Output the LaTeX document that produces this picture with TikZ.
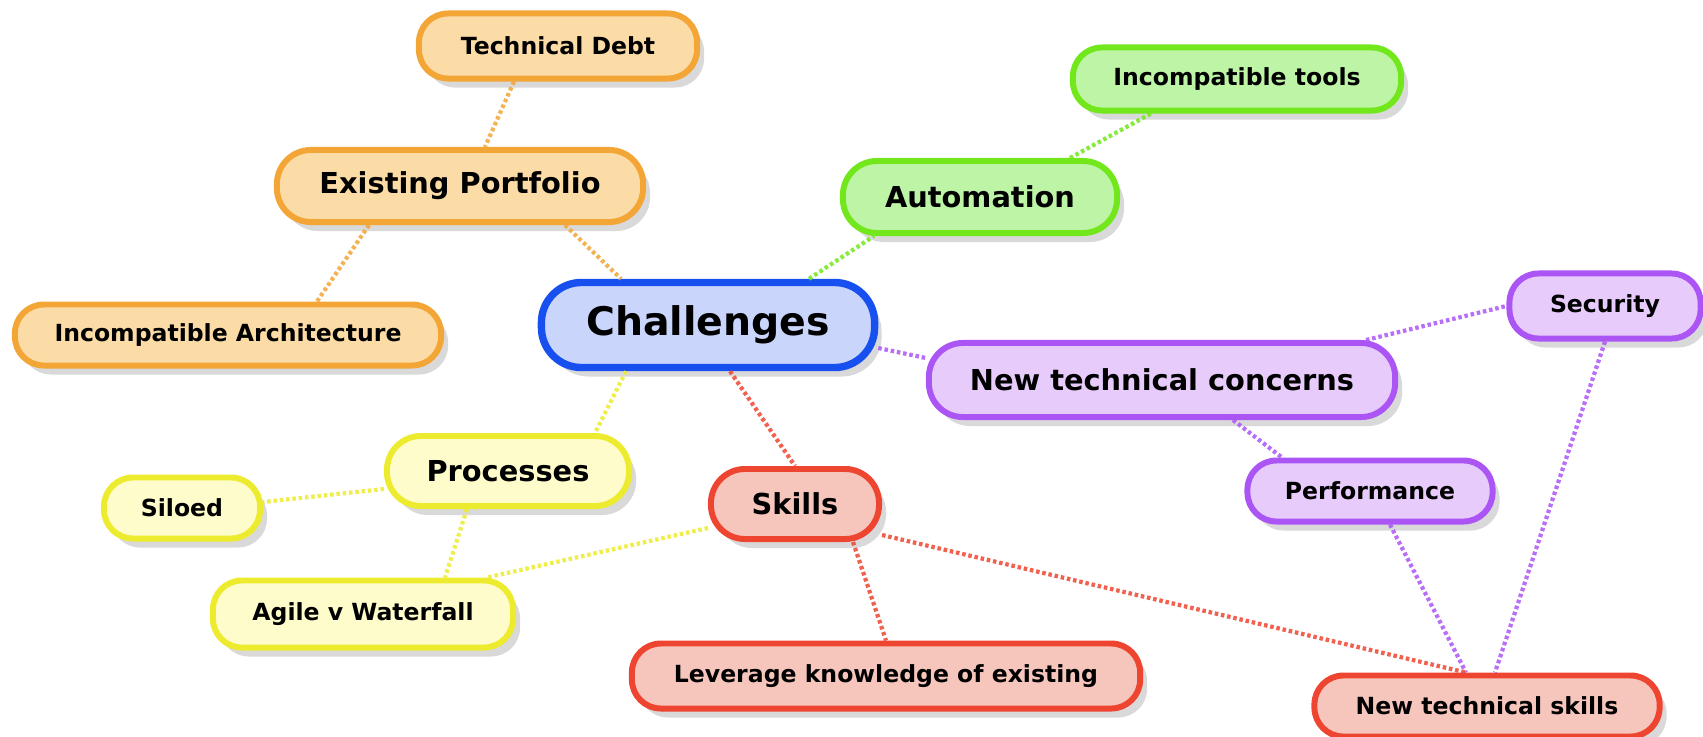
\documentclass[tikz,border=0pt]{standalone}
\usepackage{fontspec}
\setmainfont{DejaVu Sans}
\usetikzlibrary{calc,shadows}

\definecolor{orangeline}{HTML}{F3A535}
\definecolor{orangefill}{HTML}{FCDCA6}
\definecolor{blueline}{HTML}{1850F0}
\definecolor{bluefill}{HTML}{C9D5FB}
\definecolor{greenline}{HTML}{72E81C}
\definecolor{greenfill}{HTML}{BDF4A6}
\definecolor{purpleline}{HTML}{AC55F5}
\definecolor{purplefill}{HTML}{E7CBFB}
\definecolor{yellowline}{HTML}{EDEB2E}
\definecolor{yellowfill}{HTML}{FEFCCB}
\definecolor{redline}{HTML}{EE4530}
\definecolor{redfill}{HTML}{F6C6BD}

\tikzset{
    topic/.style={rectangle, inner sep=0pt, line width=1.7pt, font=\bfseries,
        drop shadow={opacity=0.3, shadow xshift=0.07cm, shadow yshift=-0.09cm}},
    bigtopic/.style={topic, rounded corners=0.34cm, font=\fontsize{8.2}{10}\bfseries},
    smalltopic/.style={topic, rounded corners=0.29cm, font=\fontsize{6.7}{8}\bfseries},
    orangebox/.style={draw=orangeline, fill=orangefill},
    greenbox/.style={draw=greenline, fill=greenfill},
    purplebox/.style={draw=purpleline, fill=purplefill},
    yellowbox/.style={draw=yellowline, fill=yellowfill},
    redbox/.style={draw=redline, fill=redfill},
    link/.style={line width=1.2pt, dash pattern=on 1pt off 0.8pt, draw opacity=0.85}
}

\begin{document}
\begin{tikzpicture}[x=0.01cm, y=-0.01cm]
    \useasboundingbox (0,0) rectangle (1703,736);

    \node[topic, draw=blueline, fill=bluefill, line width=2.1pt, rounded corners=0.4cm,
        minimum width=3.33cm, minimum height=0.85cm, font=\fontsize{11.2}{13}\bfseries]
        (challenges) at (708,325) {Challenges};

    \node[bigtopic, orangebox, minimum width=3.66cm, minimum height=0.72cm] (portfolio) at (460,186) {Existing Portfolio};
    \node[smalltopic, orangebox, minimum width=2.78cm, minimum height=0.65cm] (techdebt) at (558,46) {Technical Debt};
    \node[smalltopic, orangebox, minimum width=4.26cm, minimum height=0.61cm] (incarch) at (228,335) {Incompatible Architecture};

    \node[bigtopic, greenbox, minimum width=2.74cm, minimum height=0.72cm] (automation) at (980,197) {Automation};
    \node[smalltopic, greenbox, minimum width=3.28cm, minimum height=0.63cm] (inctools) at (1237,79) {Incompatible tools};

    \node[bigtopic, purplebox, minimum width=4.66cm, minimum height=0.74cm] (concerns) at (1162,380) {New technical concerns};
    \node[smalltopic, purplebox, minimum width=1.91cm, minimum height=0.65cm] (security) at (1605,306) {Security};
    \node[smalltopic, purplebox, minimum width=2.45cm, minimum height=0.61cm] (perf) at (1370,491) {Performance};

    \node[bigtopic, yellowbox, minimum width=2.42cm, minimum height=0.70cm] (processes) at (508,471) {Processes};
    \node[smalltopic, yellowbox, minimum width=1.56cm, minimum height=0.61cm] (siloed) at (182,508) {Siloed};
    \node[smalltopic, yellowbox, minimum width=3.00cm, minimum height=0.67cm] (agile) at (363,614) {Agile v Waterfall};

    \node[bigtopic, redbox, minimum width=1.68cm, minimum height=0.70cm] (skills) at (795,504) {Skills};
    \node[smalltopic, redbox, minimum width=5.08cm, minimum height=0.65cm] (leverage) at (886,676) {Leverage knowledge of existing};
    \node[smalltopic, redbox, minimum width=3.45cm, minimum height=0.61cm] (newskills) at (1487,706) {New technical skills};

    \draw[link, orangeline] ($ (techdebt.south) + (-44,0) $) -- ($ (portfolio.north) + (25,0) $);
    \draw[link, orangeline] ($ (portfolio.south) + (-91,0) $) -- ($ (incarch.north) + (89,0) $);
    \draw[link, orangeline] ($ (portfolio.south) + (105,0) $) -- ($ (challenges.north) + (-87,0) $);
    \draw[link, greenline] ($ (challenges.north) + (101,0) $) -- ($ (automation.south) + (-106,0) $);
    \draw[link, greenline] ($ (automation.north) + (90,0) $) -- ($ (inctools.south) + (-86,0) $);
    \draw[link, purpleline] ($ (challenges.east) + (0,23) $) -- ($ (concerns.west) + (0,-22) $);
    \draw[link, purpleline] ($ (concerns.north) + (204,0) $) -- (security.west);
    \draw[link, purpleline] ($ (concerns.south) + (71,0) $) -- ($ (perf.north) + (-88,0) $);
    \draw[link, purpleline] ($ (perf.south) + (20,0) $) -- ($ (newskills.north) + (-21,0) $);
    \draw[link, purpleline] (security.south) -- ($ (newskills.north) + (8,0) $);
    \draw[link, yellowline] ($ (challenges.south) + (-82,0) $) -- ($ (processes.north) + (87,0) $);
    \draw[link, yellowline] ($ (processes.west) + (0,18) $) -- ($ (siloed.east) + (0,-6) $);
    \draw[link, yellowline] ($ (processes.south) + (-41,0) $) -- ($ (agile.north) + (82,0) $);
    \draw[link, yellowline] ($ (skills.west) + (0,24) $) -- ($ (agile.north) + (124,0) $);
    \draw[link, redline] ($ (challenges.south) + (22,0) $) -- (skills.north);
    \draw[link, redline] ($ (skills.south) + (58,0) $) -- (leverage.north);
    \draw[link, redline] ($ (skills.east) + (0,31) $) -- ($ (newskills.north) + (-21,0) $);
\end{tikzpicture}
\end{document}
